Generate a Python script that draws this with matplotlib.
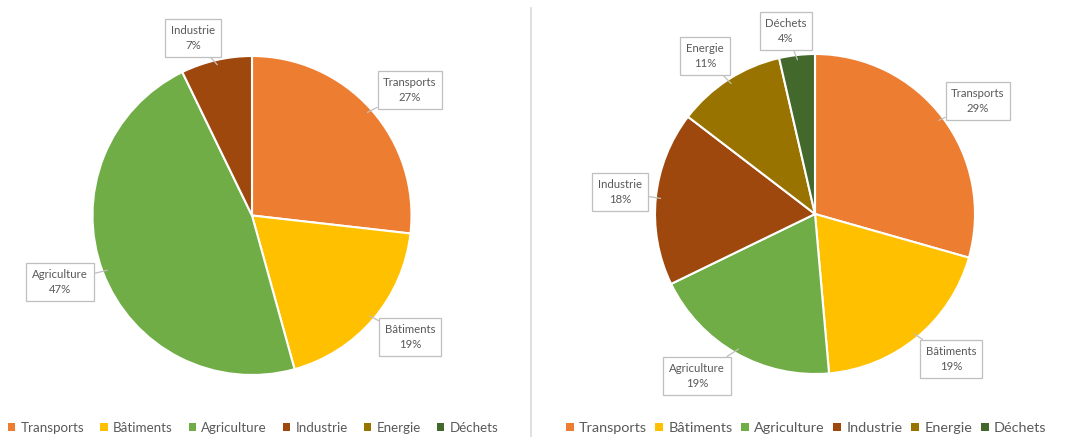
import matplotlib
matplotlib.use("Agg")
import matplotlib.pyplot as plt
import numpy as np
from matplotlib.patches import Patch
from matplotlib.lines import Line2D

plt.rcParams['font.family'] = ['Lato', 'DejaVu Sans']

# ---- data ----
categories = ["Transports", "Bâtiments", "Agriculture", "Industrie", "Energie", "Déchets"]
colors = ["#ED7D31", "#FFC000", "#70AD47", "#9E480E", "#997300", "#43682B"]

left_categories = ["Transports", "Bâtiments", "Agriculture", "Industrie"]
left_values = [26.8, 18.9, 47.1, 7.2]

right_categories = ["Transports", "Bâtiments", "Agriculture", "Industrie", "Energie", "Déchets"]
right_values = [29.4, 19.2, 19.2, 17.6, 11.0, 3.6]

W, H = 1067, 437
fig = plt.figure(figsize=(W / 100, H / 100), dpi=100)
fig.patch.set_facecolor("white")

TXT = "#595959"
BOXEDGE = "#BFBFBF"


def make_axes(x0, x1, cx, cy, r):
    ax = fig.add_axes([x0 / W, 0, (x1 - x0) / W, 1])
    ax.set_axis_off()
    return ax, ((x0 - cx) / r, (x1 - cx) / r), ((cy - H) / r, cy / r)


def draw_pie(ax, lims, cats, vals, label_offsets, r):
    cols = [colors[categories.index(c)] for c in cats]
    wedges, _ = ax.pie(vals, colors=cols, startangle=90, counterclock=False,
                       radius=1.0, wedgeprops=dict(edgecolor="white", linewidth=1.5))
    for w, c, v, (dx, dy) in zip(wedges, cats, vals, label_offsets):
        ang = np.deg2rad((w.theta1 + w.theta2) / 2)
        xy = (0.97 * np.cos(ang), 0.97 * np.sin(ang))
        ax.annotate(f"{c}\n{round(v)}%", xy=xy, xytext=(dx / r, dy / r),
                    ha="center", va="center", fontsize=8.2, color=TXT,
                    linespacing=1.5,
                    bbox=dict(boxstyle="square,pad=0.5", fc="white", ec=BOXEDGE, lw=0.9),
                    arrowprops=dict(arrowstyle="-", color=BOXEDGE, lw=0.9, shrinkA=0, shrinkB=0))
    ax.set_aspect("auto")
    ax.set_xlim(*lims[0])
    ax.set_ylim(*lims[1])


# left pie
rL = 159.5
axL, xlL, ylL = make_axes(0, 531, 252, 215.5, rL)
draw_pie(axL, (xlL, ylL), left_categories, left_values,
         [(158, 125.5), (158, -121.5), (-192, -66.5), (-59, 177.5)], rL)

# right pie
rR = 160
axR, xlR, ylR = make_axes(532, 1067, 815, 214, rR)
draw_pie(axR, (xlR, ylR), right_categories, right_values,
         [(163, 113), (136, -145), (-118, -162), (-195, 22), (-110, 158), (-29, 183)], rR)

# separator line
fig.add_artist(Line2D([531 / W, 531 / W], [0, 1 - 8 / H], color="#D9D9D9", lw=1.2))

# legends
handles = [Patch(facecolor=c, edgecolor="none") for c in colors]
fig.legend(handles, categories, loc="center", bbox_to_anchor=(253 / W, 1 - 428 / H),
           ncol=6, frameon=False, fontsize=9.6, handlelength=0.55, handleheight=0.55,
           handletextpad=0.4, columnspacing=1.2, labelcolor=TXT)
fig.legend(handles, categories, loc="center", bbox_to_anchor=(806 / W, 1 - 428 / H),
           ncol=6, frameon=False, fontsize=10.4, handlelength=0.55, handleheight=0.55,
           handletextpad=0.35, columnspacing=0.6, labelcolor=TXT)

fig.savefig("out.png", dpi=100, facecolor="white")
